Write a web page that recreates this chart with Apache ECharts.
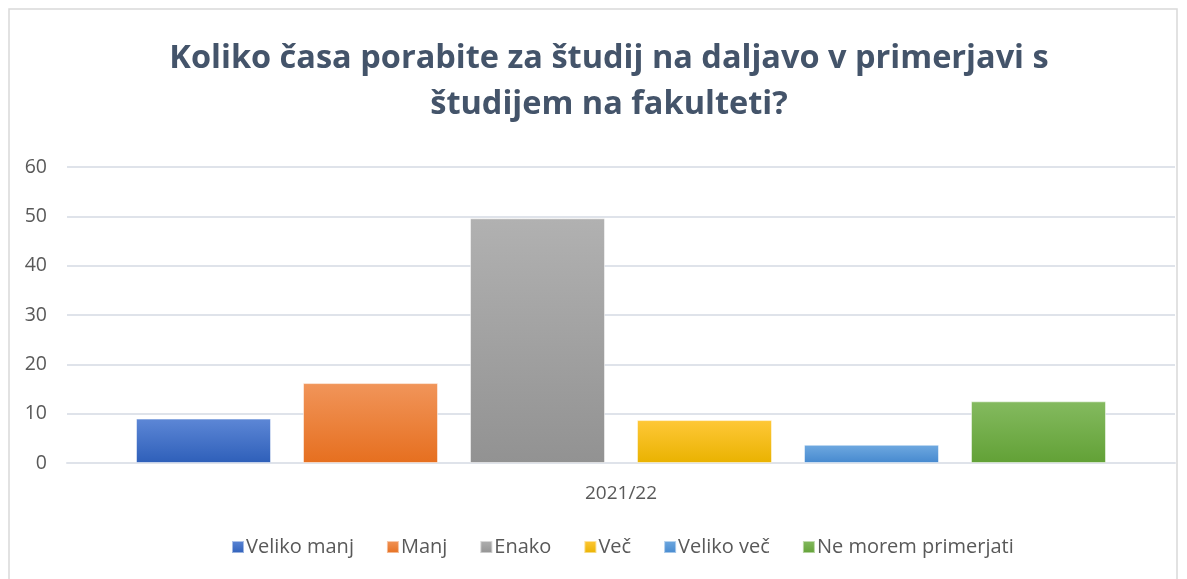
<!DOCTYPE html>
<html>
<head>
<meta charset="utf-8">
<script src="https://cdn.jsdelivr.net/npm/echarts@6/dist/echarts.min.js"></script>
<style>
    html,body{margin:0;padding:0;background:#fff;}
    #chart{width:1187px;height:579px;}
</style>
</head>
<body>
<div id="chart"></div>
<script>
// podatki
var categories = ['2021/22'];
var seriesNames = ['Veliko manj', 'Manj', 'Enako', 'Več', 'Veliko več', 'Ne morem primerjati'];
var seriesValues = [9, 16.2, 49.6, 8.7, 3.7, 12.5];
var yTicks = [0, 10, 20, 30, 40, 50, 60];

// barve (zgoraj, spodaj)
var colorsTop = ['#5d87d6', '#f1955a', '#b1b1b1', '#ffc838', '#6fa9e0', '#84ba5f'];
var colorsBottom = ['#2e5fb9', '#e66f1f', '#929292', '#e9b200', '#4689cf', '#62a136'];
var colorsMain = ['#4472c4', '#ed7d31', '#a5a5a5', '#ffc000', '#5b9bd5', '#70ad47'];

var chart = echarts.init(document.getElementById('chart'));

var series = seriesNames.map(function (name, i) {
    return {
        name: name,
        type: 'bar',
        data: [seriesValues[i]],
        barWidth: 135,
        barGap: '23.7%',
        itemStyle: {
            color: new echarts.graphic.LinearGradient(0, 0, 0, 1, [
                { offset: 0, color: colorsTop[i] },
                { offset: 1, color: colorsBottom[i] }
            ]),
            borderColor: 'rgba(255,255,255,0.5)',
            borderWidth: 1
        }
    };
});

chart.setOption({
    animation: false,
    color: colorsMain,
    graphic: [{
        type: 'rect',
        shape: { x: 9, y: 9, width: 1168, height: 580 },
        style: { fill: 'none', stroke: '#d9d9d9', lineWidth: 1.5 },
        silent: true
    }],
    title: {
        text: 'Koliko časa porabite za študij na daljavo v primerjavi s\nštudijem na fakulteti?',
        left: 604,
        textAlign: 'center',
        top: 31,
        textStyle: {
            fontFamily: 'Open Sans',
            fontWeight: 'bold',
            fontSize: 32.5,
            color: '#44546a',
            lineHeight: 46
        }
    },
    legend: {
        bottom: 17,
        left: 226,
        icon: 'rect',
        itemWidth: 12,
        itemHeight: 12,
        itemGap: 32,
        textStyle: {
            fontFamily: 'Open Sans',
            fontSize: 20,
            color: '#595959',
            padding: [0, 0, 0, -3]
        },
        data: seriesNames
    },
    grid: {
        left: 67,
        right: 12,
        top: 167,
        bottom: 116
    },
    xAxis: {
        type: 'category',
        data: categories,
        axisLine: { show: true, lineStyle: { color: '#dfe3ea', width: 2 } },
        axisTick: { show: false },
        axisLabel: {
            fontFamily: 'Open Sans',
            fontSize: 19,
            color: '#595959',
            margin: 21
        }
    },
    yAxis: {
        type: 'value',
        min: yTicks[0],
        max: yTicks[yTicks.length - 1],
        interval: 10,
        axisLine: { show: false },
        axisTick: { show: false },
        splitLine: { lineStyle: { color: '#dfe3ea', width: 2 } },
        axisLabel: {
            fontFamily: 'Open Sans',
            fontSize: 19.5,
            color: '#595959',
            margin: 20
        }
    },
    series: series
});
</script>
</body>
</html>
